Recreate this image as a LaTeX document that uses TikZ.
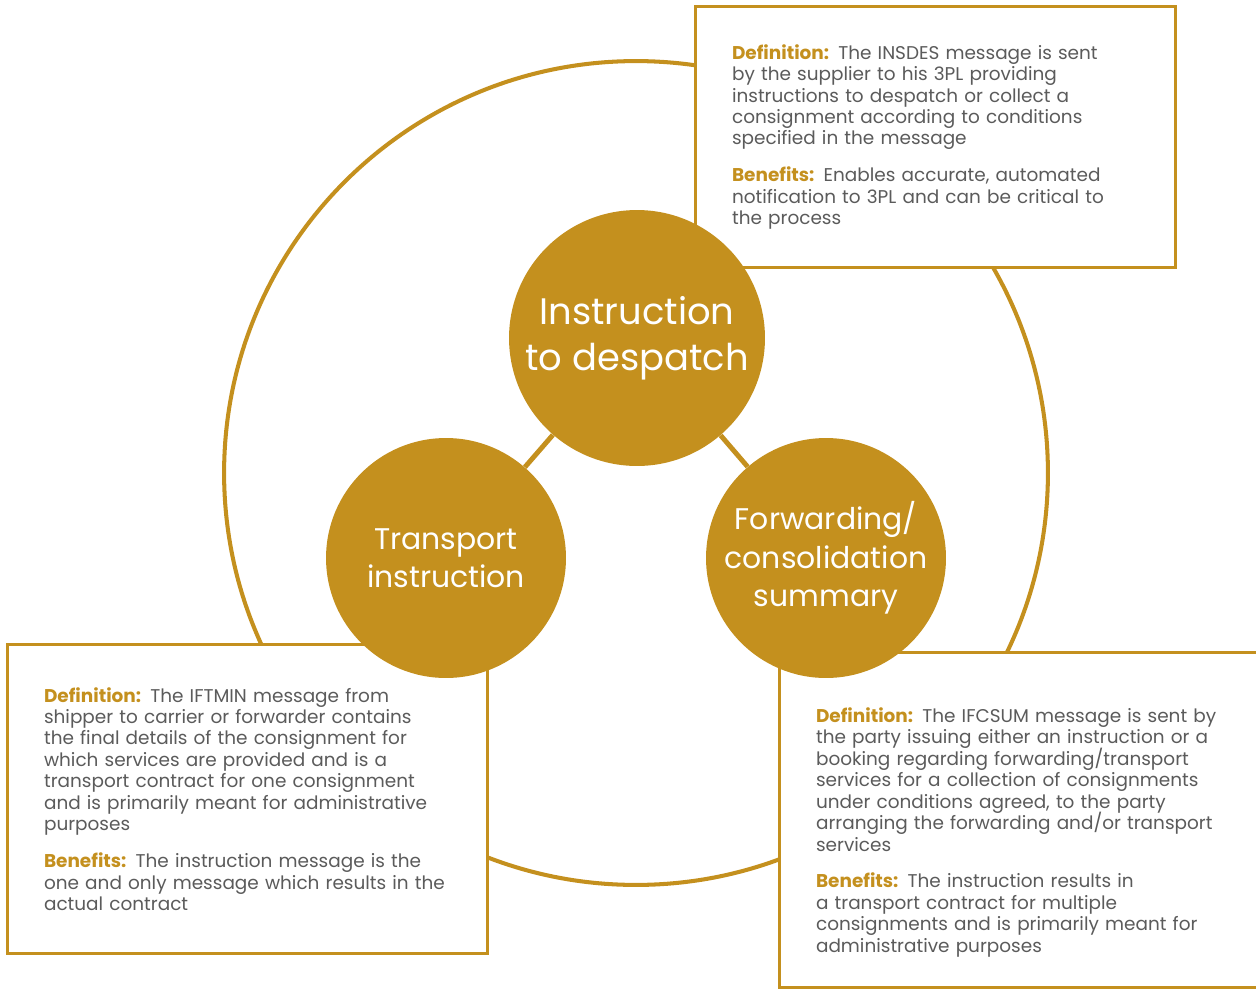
\documentclass[tikz,border=0pt]{standalone}
\usepackage{fontspec}
\setmainfont{Poppins}
\usetikzlibrary{positioning}
\definecolor{gold}{HTML}{C4901E}
\definecolor{txtgray}{HTML}{5B5B5B}
\newcommand{\lbl}[1]{\textbf{\textcolor{gold}{#1}}}

\begin{document}
\begin{tikzpicture}[x=0.02cm,y=-0.02cm,
  ring/.style={circle,draw=gold,line width=2.3pt,minimum size=16.48cm,inner sep=0pt},
  infobox/.style={rectangle,draw=gold,fill=white,line width=1.7pt,inner sep=0pt,align=left,text=txtgray,font={\fontsize{10.5}{12.2}\selectfont\lineskiplimit=-10pt}},
  bigdot/.style={circle,fill=gold,text=white,inner sep=0pt,align=center,minimum size=5.12cm,font=\fontsize{21}{26}\selectfont},
  dot/.style={circle,fill=gold,text=white,inner sep=0pt,align=center,minimum size=4.8cm,font=\fontsize{17}{21.8}\selectfont},
  link/.style={draw=gold,line width=2.8pt}]
  \useasboundingbox (0,0) rectangle (1256,990);
  \node[ring] (cycle) at (636,473) {};
  % message boxes
  \node[infobox,text width=8.14cm,minimum width=9.62cm,minimum height=5.24cm] (insdes) at (935.5,137)
    {\lbl{Definition:} The INSDES message is sent\\
     by the supplier to his 3PL providing\\
     instructions to despatch or collect a\\
     consignment according to conditions\\
     specified in the message\\[0.31cm]
     \lbl{Benefits:} Enables accurate, automated\\
     notification to 3PL and can be critical to\\
     the process};
  \node[infobox,text width=8.14cm,minimum width=9.62cm,minimum height=6.2cm] (iftmin) at (247.5,799)
    {\lbl{Definition:} The IFTMIN message from\\
     shipper to carrier or forwarder contains\\
     the final details of the consignment for\\
     which services are provided and is a\\
     transport contract for one consignment\\
     and is primarily meant for administrative\\
     purposes\\[0.31cm]
     \lbl{Benefits:} The instruction message is the\\
     one and only message which results in the\\
     actual contract};
  \node[infobox,text width=8.32cm,minimum width=9.8cm,minimum height=6.72cm] (ifcsum) at (1024,820)
    {\mbox{}\\[0.36cm]
     \lbl{Definition:} The IFCSUM message is sent by\\
     the party issuing either an instruction or a\\
     booking regarding forwarding/transport\\
     services for a collection of consignments\\
     under conditions agreed, to the party\\
     arranging the forwarding and/or transport\\
     services\\[0.31cm]
     \lbl{Benefits:} The instruction results in\\
     a transport contract for multiple\\
     consignments and is primarily meant for\\
     administrative purposes};
  % message circles
  \node[bigdot] (despatch) at (637,338) {Instruction\\to despatch};
  \node[dot] (transport) at (446,558) {Transport\\instruction};
  \node[dot] (forwarding) at (826,558) {Forwarding/\\consolidation\\summary};
  \draw[link] (despatch) -- (transport);
  \draw[link] (despatch) -- (forwarding);
\end{tikzpicture}
\end{document}
